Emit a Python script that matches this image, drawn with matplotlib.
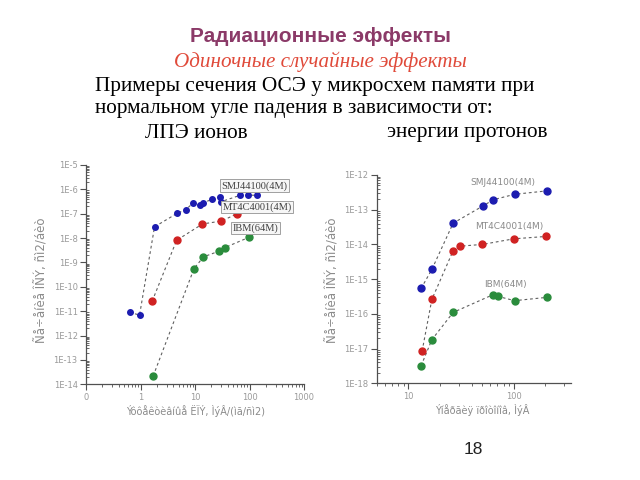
import matplotlib
matplotlib.use("Agg")
import matplotlib.pyplot as plt
from matplotlib.ticker import FixedLocator, FixedFormatter, LogLocator, NullFormatter

# ---------------- data ----------------
# Left panel: cross-section vs LET
let_smj = [0.635, 0.96, 1.81, 4.7, 6.8, 9.2, 12.4, 13.9, 20.4, 29.0, 29.9, 67.8, 95.0, 136.0]
sig_smj = [9.1e-12, 6.9e-12, 2.9e-8, 1.04e-7, 1.48e-7, 2.75e-7, 2.2e-7, 2.75e-7, 3.9e-7,
           4.9e-7, 3.1e-7, 5.75e-7, 5.75e-7, 5.75e-7]
let_mt = [1.64, 4.6, 13.7, 30.3, 59.8]
sig_mt = [2.6e-11, 8.1e-9, 3.8e-8, 5.0e-8, 1.0e-7]
let_ibm = [1.71, 9.6, 14.3, 27.5, 35.5, 97.0]
sig_ibm = [2.2e-14, 5.6e-10, 1.7e-9, 2.9e-9, 4.1e-9, 1.07e-8]

# Right panel: cross-section vs proton energy
e_smj = [13.2, 16.7, 26.6, 51.0, 64.0, 102.0, 209.0]
p_smj = [5.4e-16, 1.9e-15, 4.1e-14, 1.28e-13, 1.94e-13, 2.78e-13, 3.5e-13]
e_mt = [13.5, 16.7, 26.6, 30.7, 50.4, 100.0, 203.0]
p_mt = [8.5e-18, 2.6e-16, 6.6e-15, 8.9e-15, 1.0e-14, 1.45e-14, 1.7e-14]
e_ibm = [13.2, 16.7, 26.6, 64.0, 70.5, 102.0, 209.0]
p_ibm = [3.2e-18, 1.8e-17, 1.1e-16, 3.6e-16, 3.2e-16, 2.4e-16, 3.0e-16]

series_names = ["SMJ44100(4M)", "MT4C4001(4M)", "IBM(64M)"]

left_xticks = [0.1, 1, 10, 100, 1000]
left_xlabels = ["0", "1", "10", "100", "1000"]
left_yticks = [1e-14, 1e-13, 1e-12, 1e-11, 1e-10, 1e-9, 1e-8, 1e-7, 1e-6, 1e-5]
left_ylabels = ["1E-14", "1E-13", "1E-12", "1E-11", "1E-10", "1E-9", "1E-8", "1E-7", "1E-6", "1E-5"]
right_xticks = [10, 100]
right_xlabels = ["10", "100"]
right_yticks = [1e-18, 1e-17, 1e-16, 1e-15, 1e-14, 1e-13, 1e-12]
right_ylabels = ["1E-18", "1E-17", "1E-16", "1E-15", "1E-14", "1E-13", "1E-12"]

# ---------------- style ----------------
W, H = 640, 480
fig = plt.figure(figsize=(6.4, 4.8), dpi=100)
fig.patch.set_facecolor("white")

def fx(px):
    return px / W

def fy(py):
    return 1 - py / H

BLUE = "#1c1cb0"
RED = "#d02222"
GREEN = "#2a8c3c"
LINE = "#606060"
TICKC = "#9a9a9a"
SPINE = "#505050"

def style_axes(ax):
    for s in ["top", "right"]:
        ax.spines[s].set_visible(False)
    for s in ["left", "bottom"]:
        ax.spines[s].set_color(SPINE)
        ax.spines[s].set_linewidth(0.9)
    ax.tick_params(axis="both", which="major", length=4, width=0.8, color=SPINE,
                   labelsize=6, labelcolor=TICKC, pad=2)
    ax.tick_params(axis="both", which="minor", length=2.5, width=0.6, color=SPINE)
    ax.tick_params(axis="y", which="minor", direction="in")
    ax.patch.set_alpha(0)

# ---------------- left panel ----------------
axL = fig.add_axes([fx(86), fy(384.3), fx(304) - fx(86), fy(165) - fy(384.3)])
axL.set_xscale("log")
axL.set_yscale("log")
axL.set_xlim(0.1, 1000)
axL.set_ylim(1e-14, 1e-5)
style_axes(axL)
axL.xaxis.set_major_locator(FixedLocator(left_xticks))
axL.xaxis.set_major_formatter(FixedFormatter(left_xlabels))
axL.xaxis.set_minor_locator(LogLocator(base=10, subs=range(2, 10), numticks=20))
axL.xaxis.set_minor_formatter(NullFormatter())
axL.yaxis.set_major_locator(FixedLocator(left_yticks))
axL.yaxis.set_major_formatter(FixedFormatter(left_ylabels))
axL.yaxis.set_minor_locator(LogLocator(base=10, subs=range(2, 10), numticks=30))
axL.yaxis.set_minor_formatter(NullFormatter())

ls = (0, (2.5, 2.5))
for xs, ys, c, ms in [(let_smj, sig_smj, BLUE, 4.0), (let_mt, sig_mt, RED, 5.0), (let_ibm, sig_ibm, GREEN, 5.0)]:
    axL.plot(xs, ys, linestyle=ls, color=LINE, lw=0.8, zorder=2)
    axL.plot(xs, ys, linestyle="none", marker="o", color=c, ms=ms, mec=c, zorder=3)

lbl_box = dict(boxstyle="square,pad=0.15", fc="#f6f6f6", ec="#a0a0a0", lw=0.7)
axL.text(30.8, 1.4e-6, series_names[0], fontsize=7.5, family="Liberation Serif", color="#404040",
         va="center", ha="left", bbox=lbl_box)
axL.text(32.0, 1.9e-7, series_names[1], fontsize=7.5, family="Liberation Serif", color="#404040",
         va="center", ha="left", bbox=lbl_box)
axL.text(49.0, 2.6e-8, series_names[2], fontsize=7.5, family="Liberation Serif", color="#404040",
         va="center", ha="left", bbox=lbl_box)

# ---------------- right panel ----------------
axR = fig.add_axes([fx(376.7), fy(383.3), fx(571) - fx(376.7), fy(175) - fy(383.3)])
axR.set_xscale("log")
axR.set_yscale("log")
axR.set_xlim(5, 350)
axR.set_ylim(1e-18, 1e-12)
style_axes(axR)
axR.xaxis.set_major_locator(FixedLocator(right_xticks))
axR.xaxis.set_major_formatter(FixedFormatter(right_xlabels))
axR.xaxis.set_minor_locator(LogLocator(base=10, subs=range(2, 10), numticks=20))
axR.xaxis.set_minor_formatter(NullFormatter())
axR.yaxis.set_major_locator(FixedLocator(right_yticks))
axR.yaxis.set_major_formatter(FixedFormatter(right_ylabels))
axR.yaxis.set_minor_locator(LogLocator(base=10, subs=range(2, 10), numticks=30))
axR.yaxis.set_minor_formatter(NullFormatter())

for xs, ys, c in [(e_smj, p_smj, BLUE), (e_mt, p_mt, RED), (e_ibm, p_ibm, GREEN)]:
    axR.plot(xs, ys, linestyle=ls, color=LINE, lw=0.8, zorder=2)
    axR.plot(xs, ys, linestyle="none", marker="o", color=c, ms=5.0, mec=c, zorder=3)

axR.text(78.7, 5.9e-13, series_names[0], fontsize=6.5, color="#8a8a8a", ha="center", va="center")
axR.text(91.6, 3.2e-14, series_names[1], fontsize=6.5, color="#8a8a8a", ha="center", va="center")
axR.text(84.0, 6.8e-16, series_names[2], fontsize=6.5, color="#8a8a8a", ha="center", va="center")

# axis labels (garbled encoding as in the source)
fig.text(fx(42), fy(280), "Ñå÷åíèå ÎÑÝ, ñì2/áèò", rotation=90, ha="center", va="center",
         fontsize=8.5, color="#8a8a8a")
fig.text(fx(196), fy(411), "Ýôôåêòèâíûå ËÏÝ, ÌýÂ/(ìã/ñì2)", ha="center", va="center",
         fontsize=7, color="#8a8a8a")
fig.text(fx(333), fy(280), "Ñå÷åíèå ÎÑÝ, ñì2/áèò", rotation=90, ha="center", va="center",
         fontsize=8.5, color="#8a8a8a")
fig.text(fx(482), fy(410), "Ýíåðãèÿ ïðîòîíîâ, ÌýÂ", ha="center", va="center",
         fontsize=7, color="#8a8a8a")

# ---------------- slide text ----------------
fig.text(fx(320), fy(37), "Радиационные эффекты", ha="center", va="center",
         fontsize=15, fontweight="bold", family="Liberation Sans", color="#8b3a68")
fig.text(fx(320), fy(62), "Одиночные случайные эффекты", ha="center", va="center",
         fontsize=15.2, style="italic", family="Liberation Serif", color="#e04a3a")
fig.text(fx(95), fy(86), "Примеры сечения ОСЭ у микросхем памяти при", ha="left", va="center",
         fontsize=15.3, family="Liberation Serif", color="black")
fig.text(fx(95), fy(108), "нормальном угле падения в зависимости от:", ha="left", va="center",
         fontsize=15.3, family="Liberation Serif", color="black")
fig.text(fx(145), fy(133), "ЛПЭ ионов", ha="left", va="center",
         fontsize=15.3, family="Liberation Serif", color="black")
fig.text(fx(387), fy(133), "энергии протонов", ha="left", va="center",
         fontsize=15.3, family="Liberation Serif", color="black")
fig.text(fx(473), fy(450), "18", ha="center", va="center",
         fontsize=12.5, family="Liberation Sans", color="#222222")

fig.savefig("out.png", dpi=100)
